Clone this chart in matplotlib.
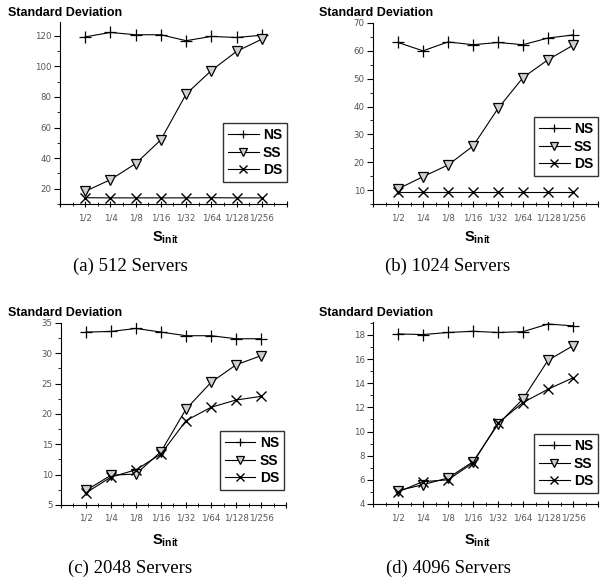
import matplotlib
matplotlib.use('Agg')
import matplotlib.pyplot as plt
from matplotlib.ticker import MultipleLocator

plt.rcParams['mathtext.fontset'] = 'custom'
plt.rcParams['mathtext.bf'] = 'Liberation Sans:bold'
plt.rcParams['mathtext.rm'] = 'Liberation Sans'

categories = ['1/2', '1/4', '1/8', '1/16', '1/32', '1/64', '1/128', '1/256']

ns_512 = [119.3, 122.2, 120.7, 120.7, 116.8, 119.6, 118.9, 120.4]
ss_512 = [18.3, 25.9, 36.4, 52.0, 81.9, 97.3, 109.8, 117.8]
ds_512 = [14.1, 14.0, 14.0, 14.0, 14.0, 14.1, 14.0, 14.0]

ns_1024 = [63.0, 60.0, 63.2, 62.2, 63.0, 62.2, 64.6, 65.7]
ss_1024 = [10.4, 14.8, 19.0, 25.8, 39.3, 50.4, 56.8, 62.0]
ds_1024 = [9.4, 9.4, 9.4, 9.4, 9.4, 9.4, 9.4, 9.4]

ns_2048 = [33.5, 33.6, 34.1, 33.5, 32.9, 32.9, 32.4, 32.4]
ss_2048 = [7.4, 9.9, 10.1, 13.8, 20.8, 25.2, 28.1, 29.6]
ds_2048 = [7.0, 9.6, 10.8, 13.4, 18.9, 21.1, 22.3, 22.9]

ns_4096 = [18.08, 18.03, 18.2, 18.3, 18.2, 18.27, 18.9, 18.75]
ss_4096 = [5.1, 5.6, 6.15, 7.5, 10.6, 12.7, 15.9, 17.1]
ds_4096 = [5.0, 5.85, 6.0, 7.4, 10.7, 12.4, 13.5, 14.45]

captions = ['(a) 512 Servers', '(b) 1024 Servers', '(c) 2048 Servers', '(d) 4096 Servers']

panels = [
    # series, axes rect, ylim, major, minor, legend anchor
    ((ns_512, ss_512, ds_512), [0.0997, 0.6513, 0.377, 0.311], (10, 129), 20, 10, (1.0, 0.12)),
    ((ns_1024, ss_1024, ds_1024), [0.6196, 0.6513, 0.3738, 0.3094], (5, 70), 10, 5, (1.0, 0.155)),
    ((ns_2048, ss_2048, ds_2048), [0.1013, 0.1368, 0.3738, 0.3111], (5, 35), 5, 2.5, (0.99, 0.082)),
    ((ns_4096, ss_4096, ds_4096), [0.6196, 0.1385, 0.3738, 0.3111], (4, 19.07), 2, 1, (1.0, 0.06)),
]

fig = plt.figure(figsize=(6.02, 5.85), dpi=100)
x = list(range(1, len(categories) + 1))

for i, (series, rect, ylim, major, minor, anchor) in enumerate(panels):
    ax = fig.add_axes(rect)
    ns, ss, ds = series
    ax.plot(x, ns, color='black', lw=0.8, marker='+', ms=8, mew=0.9, label='NS')
    ax.plot(x, ss, color='black', lw=0.8, marker='v', ms=7.5, mew=0.9,
            mfc='#d0d0d0', mec='black', label='SS')
    ax.plot(x, ds, color='black', lw=0.8, marker='x', ms=7.5, mew=1.0, label='DS')

    ax.set_xlim(0, 9)
    ax.set_ylim(*ylim)
    ax.set_xticks(range(0, 10))
    ax.set_xticklabels([''] + categories + [''])
    ax.xaxis.set_minor_locator(MultipleLocator(0.5))
    ax.yaxis.set_major_locator(MultipleLocator(major))
    ax.yaxis.set_minor_locator(MultipleLocator(minor))
    ax.spines['top'].set_visible(False)
    ax.spines['right'].set_visible(False)
    ax.spines['left'].set_linewidth(0.8)
    ax.spines['bottom'].set_linewidth(0.8)
    ax.tick_params(axis='x', which='major', direction='inout', length=5, width=0.8,
                   labelsize=6.2, labelcolor='#555555', pad=4)
    ax.tick_params(axis='x', which='minor', direction='inout', length=3, width=0.6)
    ax.tick_params(axis='y', which='major', direction='out', length=4, width=0.8,
                   labelsize=6.2, labelcolor='#555555', pad=2)
    ax.tick_params(axis='y', which='minor', direction='out', length=2, width=0.6)

    leg = ax.legend(loc='lower right', bbox_to_anchor=anchor, frameon=True,
                    fancybox=False, edgecolor='black', handlelength=2.2,
                    handletextpad=0.3, borderpad=0.35, labelspacing=0.25,
                    markerscale=0.75, borderaxespad=0.0,
                    prop={'family': 'Liberation Sans', 'weight': 'bold', 'size': 10})
    leg.get_frame().set_linewidth(1.0)

    # positions in figure pixels
    x0 = 8 if i % 2 == 0 else 319
    ytop = 13 if i < 2 else 313
    fig.text(x0 / 602, 1 - ytop / 585, 'Standard Deviation', ha='left', va='center',
             family='Liberation Sans', weight='bold', size=9)
    cx = (rect[0] + rect[2] / 2) - 8 / 602
    sy = 238 if i < 2 else 541
    fig.text(cx, 1 - sy / 585, r'$\mathbf{S}_{\mathbf{init}}$', ha='center', va='center', size=10.5)
    capx = 130 if i % 2 == 0 else 448
    capy = 266 if i < 2 else 568
    fig.text(capx / 602, 1 - capy / 585, captions[i], ha='center', va='center',
             family='Liberation Serif', size=13.5)

fig.savefig('out.png', dpi=100)
